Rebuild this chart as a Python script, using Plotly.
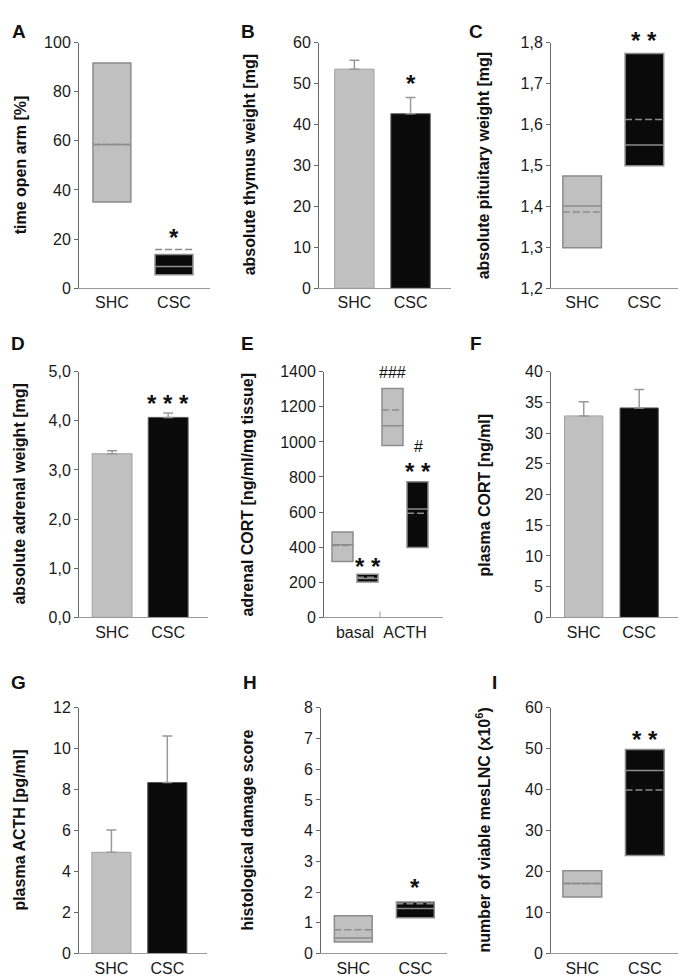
import plotly.graph_objects as go

W, H = 687, 979

groups = ["SHC", "CSC"]
conditions = ["basal", "ACTH"]

# A  time open arm [%]  (box: q1 / median / q3 / mean)
a_q1 = [35.1, 5.5]
a_med = [58.5, 8.8]
a_q3 = [91.7, 13.7]
a_mean = [58.5, 15.7]

# B  absolute thymus weight [mg]  (mean + sem)
b_mean = [53.5, 42.6]
b_sem = [2.2, 4.0]

# C  absolute pituitary weight [mg]
c_q1 = [1.299, 1.499]
c_med = [1.401, 1.550]
c_q3 = [1.474, 1.773]
c_mean = [1.386, 1.612]

# D  absolute adrenal weight [mg]
d_mean = [3.33, 4.07]
d_sem = [0.06, 0.09]

# E  adrenal CORT, basal / ACTH
e_shc_q1 = [319, 980]
e_shc_med = [414, 1092]
e_shc_q3 = [487, 1305]
e_shc_mean = [410, 1182]
e_csc_q1 = [202, 398]
e_csc_med = [222, 618]
e_csc_q3 = [246, 773]
e_csc_mean = [228, 594]

# F  plasma CORT [ng/ml]
f_mean = [32.8, 34.1]
f_sem = [2.3, 3.0]

# G  plasma ACTH [pg/ml]
g_mean = [4.94, 8.35]
g_sem = [1.09, 2.27]

# H  histological damage score
h_q1 = [0.374, 1.163]
h_med = [0.50, 1.46]
h_q3 = [1.226, 1.675]
h_mean = [0.768, 1.62]

# I  viable mesLNC (x10^6)
i_q1 = [13.8, 23.9]
i_med = [17.1, 44.7]
i_q3 = [20.2, 49.8]
i_mean = [17.1, 39.9]

fills = ["#c0c0c0", "#0a0a0a"]
bar_edges = ["#a0a0a0", "#555555"]
box_edge = "#8c8c8c"
err_col = "#999999"
FONT = "Liberation Sans, Arial, Helvetica, sans-serif"
BOXGAP, BOXGROUPGAP = 0.0, 0.16

# panel pixel boxes: x0, x1, y_top, y_bottom
panels = {
    "A": (71, 202, 27, 277), "B": (311, 443, 27, 277), "C": (543, 670, 27, 277),
    "D": (71, 200, 362, 612), "E": (316, 435, 362, 612), "F": (543, 670, 362, 612),
    "G": (71, 199, 704, 954), "H": (313, 439, 704, 954), "I": (543, 670, 704, 954),
}
xranges = {
    "A": [-0.53, 1.58], "B": [-0.63, 1.72], "C": [-0.5, 1.54],
    "D": [-0.59, 1.71], "E": [-0.62, 1.76], "F": [-0.59, 1.70],
    "G": [-0.58, 1.71], "H": [-0.52, 1.51], "I": [-0.5, 1.53],
}
yaxes_cfg = {
    "A": ([0, 100], 20, None), "B": ([0, 60], 10, None), "C": ([1.2, 1.8], 0.1, ".1f"),
    "D": ([0, 5], 1, ".1f"), "E": ([0, 1400], 200, None), "F": ([0, 40], 5, None),
    "G": ([0, 12], 2, None), "H": ([0, 8], 1, None), "I": ([0, 60], 10, None),
}
ytitles = {
    "A": "time open arm [%]", "B": "absolute thymus weight [mg]",
    "C": "absolute pituitary weight [mg]", "D": "absolute adrenal weight [mg]",
    "E": "adrenal CORT [ng/ml/mg tissue]", "F": "plasma CORT [ng/ml]",
    "G": "plasma ACTH [pg/ml]", "H": "histological damage score",
    "I": "number of viable mesLNC (x10<sup>6</sup>)",
}
title_x = {"A": 12, "B": 241, "C": 475, "D": 12, "E": 240, "F": 477, "G": 12, "H": 240, "I": 475}
letter_pos = {"A": (2, 7), "B": (231, 7), "C": (459, 7), "D": (1, 325), "E": (231, 325),
              "F": (460, 325), "G": (1, 670), "H": (233, 670), "I": (482, 670)}

order = list(panels)
ax_id = {p: ("" if i == 0 else str(i + 1)) for i, p in enumerate(order)}

fig = go.Figure()
shapes = []


def mean_line(p, pos, half, y):
    # dashed mean line across a box (plotly's own boxmean dash is too fine)
    shapes.append(dict(type="line", xref="x" + ax_id[p], yref="y" + ax_id[p],
                       x0=pos - half, x1=pos + half, y0=y, y1=y, layer="above",
                       line=dict(color=box_edge, width=1.5, dash="7px,3px")))


def add_boxes(p, q1, med, q3, mean, width):
    for k, g in enumerate(groups):
        fig.add_trace(go.Box(
            x=[g], q1=[q1[k]], median=[med[k]], q3=[q3[k]],
            lowerfence=[q1[k]], upperfence=[q3[k]],
            boxpoints=False, width=width,
            fillcolor=fills[k], line=dict(color=box_edge, width=1.5),
            showlegend=False, hoverinfo="skip",
            xaxis="x" + ax_id[p], yaxis="y" + ax_id[p]))
        mean_line(p, k, width / 2, mean[k])


def add_bars(p, mean, sem, width):
    for k, g in enumerate(groups):
        fig.add_trace(go.Bar(
            x=[g], y=[mean[k]], width=width,
            marker=dict(color=fills[k], line=dict(color=bar_edges[k], width=1)),
            error_y=dict(type="data", symmetric=False, array=[sem[k]], arrayminus=[0],
                         color=err_col, thickness=1.5, width=5),
            showlegend=False, hoverinfo="skip",
            xaxis="x" + ax_id[p], yaxis="y" + ax_id[p]))


add_boxes("A", a_q1, a_med, a_q3, a_mean, 0.61)
add_bars("B", b_mean, b_sem, 0.7)
add_boxes("C", c_q1, c_med, c_q3, c_mean, 0.62)
add_bars("D", d_mean, d_sem, 0.71)

e_sets = [(e_shc_q1, e_shc_med, e_shc_q3, e_shc_mean), (e_csc_q1, e_csc_med, e_csc_q3, e_csc_mean)]
e_off = 0.25 * (1 - BOXGAP)
e_half = e_off * (1 - BOXGROUPGAP)
for k, g in enumerate(groups):
    q1, med, q3, mean = e_sets[k]
    fig.add_trace(go.Box(
        x=conditions, q1=q1, median=med, q3=q3, lowerfence=q1, upperfence=q3,
        boxpoints=False, offsetgroup=g,
        fillcolor=fills[k], line=dict(color=box_edge, width=1.5),
        showlegend=False, hoverinfo="skip", xaxis="x" + ax_id["E"], yaxis="y" + ax_id["E"]))
    for c in range(len(conditions)):
        mean_line("E", c + (2 * k - 1) * e_off, e_half, mean[c])

add_bars("F", f_mean, f_sem, 0.69)
add_bars("G", g_mean, g_sem, 0.7)
add_boxes("H", h_q1, h_med, h_q3, h_mean, 0.61)
add_boxes("I", i_q1, i_med, i_q3, i_mean, 0.62)

layout = dict(
    width=W, height=H, margin=dict(l=0, r=0, t=0, b=0),
    paper_bgcolor="white", plot_bgcolor="white",
    font=dict(family=FONT, size=16, color="#1a1a1a"),
    barmode="overlay", boxmode="group", boxgap=BOXGAP, boxgroupgap=BOXGROUPGAP,
    separators=", ", showlegend=False,
)

annotations = []
for p in order:
    x0, x1, yt, yb = panels[p]
    i = ax_id[p]
    yr, dt, fmt = yaxes_cfg[p]
    layout["xaxis" + i] = dict(
        domain=[x0 / W, x1 / W], anchor="y" + i, range=xranges[p], type="category",
        showline=True, linecolor="#9a9a9a", linewidth=1, ticks="", showgrid=False,
        zeroline=False, tickfont=dict(size=16, color="#1a1a1a"), fixedrange=True)
    ya = dict(
        domain=[1 - yb / H, 1 - yt / H], anchor="x" + i, range=yr, dtick=dt, tick0=yr[0],
        showline=True, linecolor="#666666", linewidth=1, ticks="outside", ticklen=4,
        tickcolor="#666666", showgrid=False, zeroline=False,
        tickfont=dict(size=16, color="#1a1a1a"), fixedrange=True)
    if fmt:
        ya["tickformat"] = fmt
    layout["yaxis" + i] = ya
    annotations.append(dict(
        text=ytitles[p], xref="paper", yref="paper", x=title_x[p] / W,
        y=1 - (yt + yb) / 2 / H, xanchor="center", yanchor="middle", textangle=-90,
        showarrow=False, font=dict(size=16, family=FONT, color="#111111", weight="bold")))
    lx, ly = letter_pos[p]
    annotations.append(dict(
        text=p, xref="paper", yref="paper", x=lx / W, y=1 - (ly - 4) / H,
        xanchor="left", yanchor="top", showarrow=False,
        font=dict(size=19, family=FONT, color="#111111", weight="bold")))

# divider tick between basal and ACTH
shapes.append(dict(type="line", xref="x" + ax_id["E"], yref="paper", x0=0.5, x1=0.5,
                   y0=1 - 612 / H, y1=1 - 606 / H, line=dict(color="#9a9a9a", width=1)))

# significance marks: panel, x category, y value, text, x shift
marks = [
    ("A", "CSC", 22.8, "*", 0), ("B", "CSC", 51.1, "*", 0), ("C", "CSC", 1.8, "* *", 0),
    ("D", "CSC", 4.46, "* * *", 0), ("E", "basal", 319, "* *", 13),
    ("E", "ACTH", 857, "* *", 13), ("H", "CSC", 2.30, "*", 0), ("I", "CSC", 53.5, "* *", 0),
]
for p, xc, yv, txt, xs in marks:
    annotations.append(dict(
        text=txt, x=xc, y=yv, xref="x" + ax_id[p], yref="y" + ax_id[p], xshift=xs,
        yshift=-5 + (7 if p == "C" else 0), showarrow=False,
        font=dict(size=24, family=FONT, color="#111111", weight="bold")))

hashes = [("E", "ACTH", 1394, "###", -13), ("E", "ACTH", 974, "#", 13)]
for p, xc, yv, txt, xs in hashes:
    annotations.append(dict(
        text=txt, x=xc, y=yv, xref="x" + ax_id[p], yref="y" + ax_id[p], xshift=xs,
        showarrow=False, font=dict(size=16, family=FONT, color="#111111")))

layout["annotations"] = annotations
layout["shapes"] = shapes
fig.update_layout(**layout)

fig.write_html("out.html")
